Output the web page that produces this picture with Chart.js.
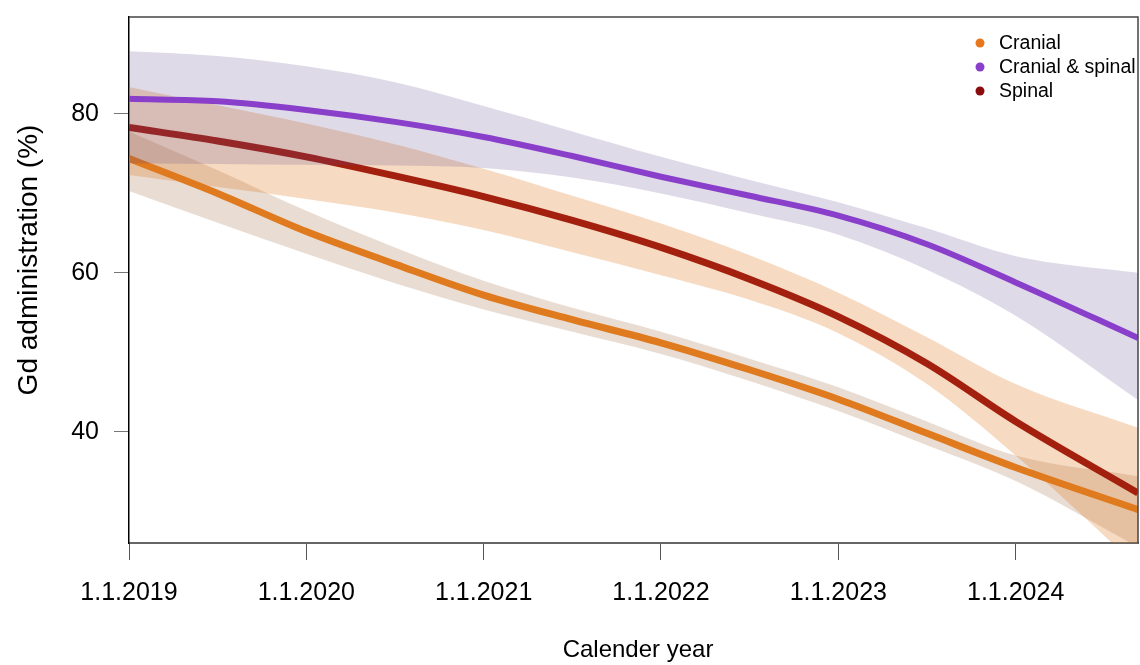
<!DOCTYPE html>
<html>
<head>
<meta charset="utf-8">
<script src="https://cdn.jsdelivr.net/npm/chart.js@4.4.1/dist/chart.umd.min.js"></script>
<style>
  html, body { margin: 0; padding: 0; background: #fff; }
  #wrap { width: 1140px; height: 665px; }
</style>
</head>
<body>
<div id="wrap"><canvas id="gdChart" width="1140" height="665"></canvas></div>
<script>
// time axis, in decimal years
const years = [2019, 2019.5, 2020, 2020.5, 2021, 2021.5, 2022, 2022.5, 2023, 2023.5, 2024, 2024.69];
const yearTicks = [2019, 2020, 2021, 2022, 2023, 2024];
const yearLabels = ['1.1.2019', '1.1.2020', '1.1.2021', '1.1.2022', '1.1.2023', '1.1.2024'];
const valueTicks = [40, 60, 80];

const seriesNames = ['Cranial', 'Cranial & spinal', 'Spinal'];
const yTitle = 'Gd administration (%)';
const xTitle = 'Calender year';

// fitted share (%) and confidence band
const cranialMid = [74.4, 70.0, 65.2, 61.1, 57.2, 54.1, 51.2, 47.8, 44.1, 39.8, 35.5, 30.2];
const cranialHi  = [77.8, 72.9, 67.8, 63.2, 59.0, 55.6, 52.6, 49.2, 45.6, 41.3, 37.0, 34.4];
const cranialLo  = [70.3, 66.3, 62.4, 58.7, 55.4, 52.6, 49.8, 46.4, 42.6, 38.3, 33.8, 25.5];

const bothMid = [81.9, 81.6, 80.5, 79.0, 77.1, 74.7, 72.1, 69.7, 67.2, 63.6, 58.8, 51.8];
const bothHi  = [87.9, 87.3, 86.0, 84.0, 81.0, 77.8, 74.6, 71.7, 68.9, 65.6, 62.1, 60.0];
const bothLo  = [73.8, 73.7, 73.6, 73.5, 73.2, 72.0, 70.0, 67.5, 64.8, 60.4, 54.6, 44.0];

const spinalMid = [78.3, 76.6, 74.6, 72.2, 69.6, 66.6, 63.2, 59.2, 54.5, 48.6, 41.3, 32.3];
const spinalHi  = [83.4, 81.1, 78.8, 76.2, 73.1, 69.7, 66.2, 62.2, 57.5, 51.9, 46.0, 40.5];
const spinalLo  = [72.3, 70.8, 69.3, 67.6, 65.4, 62.6, 59.7, 56.6, 52.4, 46.0, 37.0, 23.0];

const lineColors = ['#df7a1e', '#8a3fcb', '#a3200f'];
const dotColors = ['#e8761a', '#8a3fcb', '#8b0c0c'];
const bandColors = ['rgba(139,69,19,0.19)', 'rgba(93,71,139,0.2)', 'rgba(224,123,32,0.28)'];

const FONT = '"Liberation Sans", Arial, sans-serif';
Chart.defaults.font.family = FONT;
Chart.defaults.color = '#000';

const pts = (arr) => years.map((x, i) => ({ x: x, y: arr[i] }));

function bandSets(label, hi, lo, color, order) {
  return [
    { label: label + ' hi', data: pts(hi), borderWidth: 0, borderColor: 'transparent', backgroundColor: color,
      pointRadius: 0, fill: '+1', cubicInterpolationMode: 'monotone', order: order },
    { label: label + ' lo', data: pts(lo), borderWidth: 0, borderColor: 'transparent',
      pointRadius: 0, fill: false, cubicInterpolationMode: 'monotone', order: order }
  ];
}

function lineSet(label, mid, color, width, order) {
  return { label: label, data: pts(mid), borderColor: color, borderWidth: width, pointRadius: 0,
    fill: false, cubicInterpolationMode: 'monotone', borderCapStyle: 'butt', order: order };
}

// higher order is drawn first
const datasets = [].concat(
  bandSets(seriesNames[0], cranialHi, cranialLo, bandColors[0], 6),
  [lineSet(seriesNames[0], cranialMid, lineColors[0], 7, 5)],
  bandSets(seriesNames[2], spinalHi, spinalLo, bandColors[2], 4),
  [lineSet(seriesNames[2], spinalMid, lineColors[2], 7, 3)],
  bandSets(seriesNames[1], bothHi, bothLo, bandColors[1], 2),
  [lineSet(seriesNames[1], bothMid, lineColors[1], 6, 1)]
);

const boxPlugin = {
  id: 'box',
  afterDraw(chart) {
    const { ctx, chartArea: a } = chart;
    ctx.save();
    ctx.strokeStyle = '#444';
    ctx.lineWidth = 1.5;
    ctx.beginPath();
    ctx.moveTo(a.left, a.top);
    ctx.lineTo(a.right, a.top);
    ctx.lineTo(a.right, a.bottom);
    ctx.stroke();

    // legend in the top right corner
    ctx.font = '19.5px ' + FONT;
    ctx.textBaseline = 'middle';
    ctx.textAlign = 'left';
    seriesNames.forEach((name, i) => {
      const y = a.top + 26 + i * 24;
      ctx.fillStyle = dotColors[i];
      ctx.beginPath();
      ctx.arc(980, y, 4.5, 0, Math.PI * 2);
      ctx.fill();
      ctx.fillStyle = '#000';
      ctx.fillText(name, 999, y + 1);
    });

    // axis titles
    ctx.textAlign = 'center';
    ctx.font = '24px ' + FONT;
    ctx.fillText(xTitle, 638, 650);
    ctx.font = '28px ' + FONT;
    ctx.translate(29, 260);
    ctx.rotate(-Math.PI / 2);
    ctx.fillText(yTitle, 0, 0);
    ctx.restore();
  }
};

new Chart(document.getElementById('gdChart'), {
  type: 'line',
  data: { datasets: datasets },
  options: {
    responsive: false,
    animation: false,
    layout: { padding: { top: 17, right: 2, left: 0, bottom: 0 } },
    plugins: {
      legend: { display: false },
      tooltip: { enabled: false },
      filler: { propagate: false }
    },
    scales: {
      x: {
        type: 'linear',
        min: 2019,
        max: 2024.69,
        afterBuildTicks: (s) => { s.ticks = yearTicks.map(v => ({ value: v })); },
        afterFit: (s) => { s.height = 122; s.paddingLeft = 0; s.paddingRight = 0; },
        ticks: {
          autoSkip: false, maxRotation: 0, padding: 18,
          font: { size: 25 }, color: '#000',
          callback: (v) => yearLabels[yearTicks.indexOf(v)]
        },
        grid: { drawOnChartArea: false, drawTicks: true, tickLength: 17, color: '#555' },
        border: { color: '#666', width: 2 }
      },
      y: {
        type: 'linear',
        min: 26,
        max: 92.2,
        afterBuildTicks: (s) => { s.ticks = valueTicks.map(v => ({ value: v })); },
        afterFit: (s) => { s.width = 129; s.paddingTop = 0; s.paddingBottom = 0; },
        ticks: { padding: 15, font: { size: 25 }, color: '#000' },
        grid: { drawOnChartArea: false, drawTicks: true, tickLength: 15, color: '#777' },
        border: { color: '#000', width: 1.5 }
      }
    }
  },
  plugins: [boxPlugin]
});
</script>
</body>
</html>
